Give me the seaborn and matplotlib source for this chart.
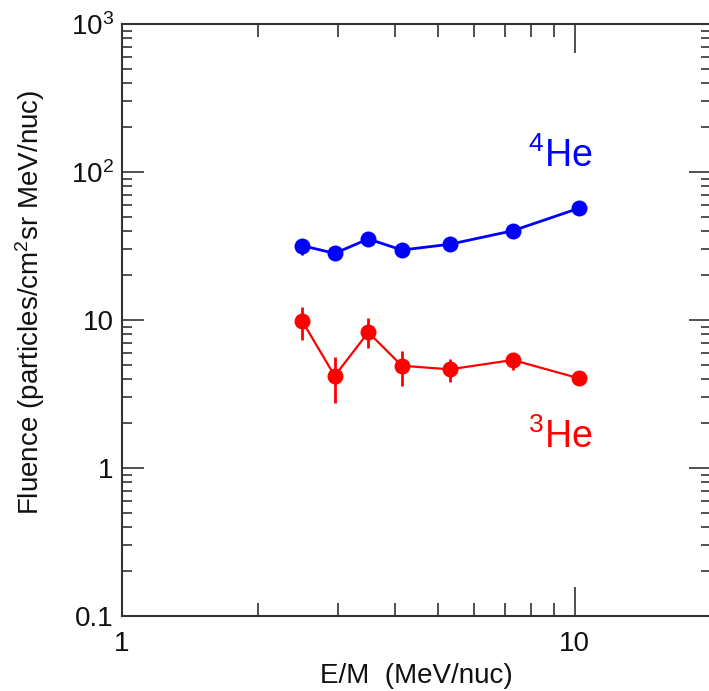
import matplotlib
matplotlib.use("Agg")
import matplotlib.pyplot as plt
import matplotlib.ticker as mticker
import numpy as np
import pandas as pd
import seaborn as sns

# ---- data ----
energy = [2.5, 2.95, 3.5, 4.15, 5.3, 7.3, 10.2]
he4 = [31.8, 28.2, 35.3, 29.7, 32.5, 40.1, 56.8]
he4_lo = [27.5, 26.5, 33.0, 28.0, 30.8, 38.2, 54.5]
he4_hi = [34.5, 30.0, 37.5, 31.5, 34.2, 42.0, 59.0]
he3 = [9.85, 4.19, 8.26, 4.91, 4.64, 5.37, 4.04]
he3_lo = [7.33, 2.76, 6.44, 3.58, 3.83, 4.60, 3.80]
he3_hi = [12.3, 5.65, 10.3, 6.20, 5.45, 5.80, 4.30]

y_ticks = [0.1, 1, 10, 100, 1000]
y_ticklabels = ["0.1", "1", "10", "$10^2$", "$10^3$"]
x_ticks = [1, 10]
x_ticklabels = ["1", "10"]

sns.set_theme(style="ticks")
plt.rcParams["font.family"] = ["Liberation Sans", "DejaVu Sans"]
plt.rcParams["mathtext.fontset"] = "custom"
plt.rcParams["mathtext.rm"] = "Liberation Sans"
plt.rcParams["mathtext.it"] = "Liberation Sans:italic"
plt.rcParams["mathtext.bf"] = "Liberation Sans:bold"
plt.rcParams["mathtext.default"] = "regular"

fig = plt.figure(figsize=(7.09, 6.91), dpi=100)
ax = fig.add_axes([122 / 709, 1 - 616 / 691, (711 - 122) / 709, (616 - 24) / 691])

df = pd.DataFrame({
    "E": energy * 2,
    "F": he4 + he3,
    "species": ["4He"] * len(energy) + ["3He"] * len(energy),
})
palette = {"4He": "#0000ff", "3He": "#ff0000"}

# error bars
ax.vlines(energy, he4_lo, he4_hi, color="#0000ff", lw=2.0, zorder=2)
ax.vlines(energy, he3_lo, he3_hi, color="#ff0000", lw=2.0, zorder=2)

sns.lineplot(data=df[df.species == "4He"], x="E", y="F", color=palette["4He"],
             marker="o", markersize=11.5, markeredgewidth=0, lw=2.0, ax=ax, zorder=3)
sns.lineplot(data=df[df.species == "3He"], x="E", y="F", color=palette["3He"],
             marker="o", markersize=11.5, markeredgewidth=0, lw=1.6, ax=ax, zorder=3)

ax.set_xscale("log")
ax.set_yscale("log")
ax.set_xlim(1, 20)
ax.set_ylim(0.1, 1000)

ax.yaxis.set_major_locator(mticker.FixedLocator(y_ticks))
ax.yaxis.set_major_formatter(mticker.FixedFormatter(y_ticklabels))
ax.xaxis.set_major_locator(mticker.FixedLocator(x_ticks))
ax.xaxis.set_major_formatter(mticker.FixedFormatter(x_ticklabels))
ax.xaxis.set_minor_locator(mticker.LogLocator(base=10, subs=np.arange(2, 10), numticks=20))
ax.yaxis.set_minor_locator(mticker.LogLocator(base=10, subs=np.arange(2, 10), numticks=20))
ax.xaxis.set_minor_formatter(mticker.NullFormatter())
ax.yaxis.set_minor_formatter(mticker.NullFormatter())

tc = "#222222"
ax.tick_params(axis="x", which="major", direction="in", length=21, width=1.1,
               top=True, bottom=True, color=tc, labelsize=20, pad=11, labelcolor="#111111")
ax.tick_params(axis="x", which="minor", direction="in", length=9.5, width=1.1,
               top=True, bottom=True, color=tc)
ax.tick_params(axis="y", which="major", direction="in", length=16, width=1.1,
               left=True, right=True, color=tc, labelsize=20, pad=6, labelcolor="#111111")
ax.tick_params(axis="y", which="minor", direction="in", length=7, width=1.1,
               left=True, right=True, color=tc)

for s in ax.spines.values():
    s.set_color("#333333")
    s.set_linewidth(1.5)
    s.set_visible(True)

ax.set_xlabel("E/M  (MeV/nuc)", fontsize=20, color="#111111")
ax.set_ylabel("Fluence (particles/cm$^2$sr MeV/nuc)", fontsize=20, color="#111111")
ax.xaxis.set_label_coords(0.5, -0.079)
ax.yaxis.set_label_coords(-0.128, 0.53)
ax.grid(False)

ax.text(0.689, 0.758, "$^4$He", transform=ax.transAxes, color="#0000ff",
        fontsize=27, ha="left", va="baseline")
ax.text(0.689, 0.284, "$^3$He", transform=ax.transAxes, color="#ff0000",
        fontsize=27, ha="left", va="baseline")

fig.savefig("out.png", dpi=100, facecolor="white")
